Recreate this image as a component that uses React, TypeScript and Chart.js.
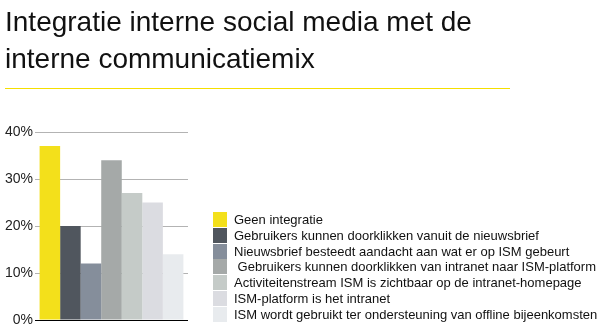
import React, { useEffect, useRef } from "react";
import { Chart, registerables } from "chart.js";

Chart.register(...registerables);

const titleLines = ["Integratie interne social media met de", "interne communicatiemix"];
const categories = [""];
const seriesLabels = [
  "Geen integratie",
  "Gebruikers kunnen doorklikken vanuit de nieuwsbrief",
  "Nieuwsbrief besteedt aandacht aan wat er op ISM gebeurt",
  " Gebruikers kunnen doorklikken van intranet naar ISM-platform",
  "Activiteitenstream ISM is zichtbaar op de intranet-homepage",
  "ISM-platform is het intranet",
  "ISM wordt gebruikt ter ondersteuning van offline bijeenkomsten",
];
const seriesValues = [37, 20, 12, 34, 27, 25, 14];
const seriesColors = ["#f3e01b", "#50565e", "#858e9b", "#a5a9a8", "#c5cbc8", "#dbdce1", "#e8ebee"];
const yTickStep = 10;
const yMax = 40;

const FONT = '"Liberation Sans", Arial, Helvetica, sans-serif';

const decorPlugin = {
  id: "decor",
  afterDraw(chart: any) {
    const ctx = chart.ctx;
    ctx.save();
    // title
    ctx.fillStyle = "#111";
    ctx.font = `28px ${FONT}`;
    ctx.textBaseline = "alphabetic";
    ctx.textAlign = "left";
    ctx.fillText(titleLines[0], 5, 31);
    ctx.fillText(titleLines[1], 5, 68);
    // yellow rule
    ctx.fillStyle = "#f5df00";
    ctx.fillRect(5, 88, 505, 1);
    // legend
    ctx.font = `13px ${FONT}`;
    ctx.textBaseline = "middle";
    chart.data.datasets.forEach((ds: any, i: number) => {
      const y0 = 212 + i * 15.83;
      ctx.fillStyle = ds.backgroundColor;
      ctx.fillRect(213, Math.round(y0), 14, 15);
      ctx.fillStyle = "#111";
      ctx.fillText(ds.label, 234, Math.round(y0) + 8);
    });
    ctx.restore();
  },
};

export default function App() {
  const ref = useRef<HTMLCanvasElement>(null);
  useEffect(() => {
    const chart = new Chart(ref.current!, {
      type: "bar",
      data: {
        labels: categories,
        datasets: seriesLabels.map((label, i) => ({
          label,
          data: [seriesValues[i]],
          backgroundColor: seriesColors[i],
          borderWidth: 0,
          categoryPercentage: 0.94,
          barPercentage: 1,
        })),
      },
      options: {
        animation: false,
        responsive: false,
        maintainAspectRatio: false,
        layout: { padding: { left: 0, right: 414, top: 132, bottom: 15 } },
        plugins: { legend: { display: false }, title: { display: false }, tooltip: { enabled: false } },
        scales: {
          x: { display: false, offset: true },
          y: {
            min: 0,
            max: yMax,
            ticks: {
              stepSize: yTickStep,
              padding: 2,
              color: "#222",
              font: { family: FONT, size: 14 },
              callback: (v: any) => `${v}%`,
            },
            grid: {
              drawTicks: false,
              color: (c: any) => (c.tick && c.tick.value === 0 ? "#000" : "#b3b3b3"),
            },
            border: { display: false },
            afterFit: (s: any) => {
              s.width = 35;
            },
          },
        },
      },
      plugins: [decorPlugin],
    });
    return () => chart.destroy();
  }, []);
  return (
    <div style={{ position: "absolute", left: 0, top: 0, width: 602, height: 335, background: "#fff" }}>
      <canvas ref={ref} width={602} height={335} style={{ width: 602, height: 335 }} />
    </div>
  );
}
